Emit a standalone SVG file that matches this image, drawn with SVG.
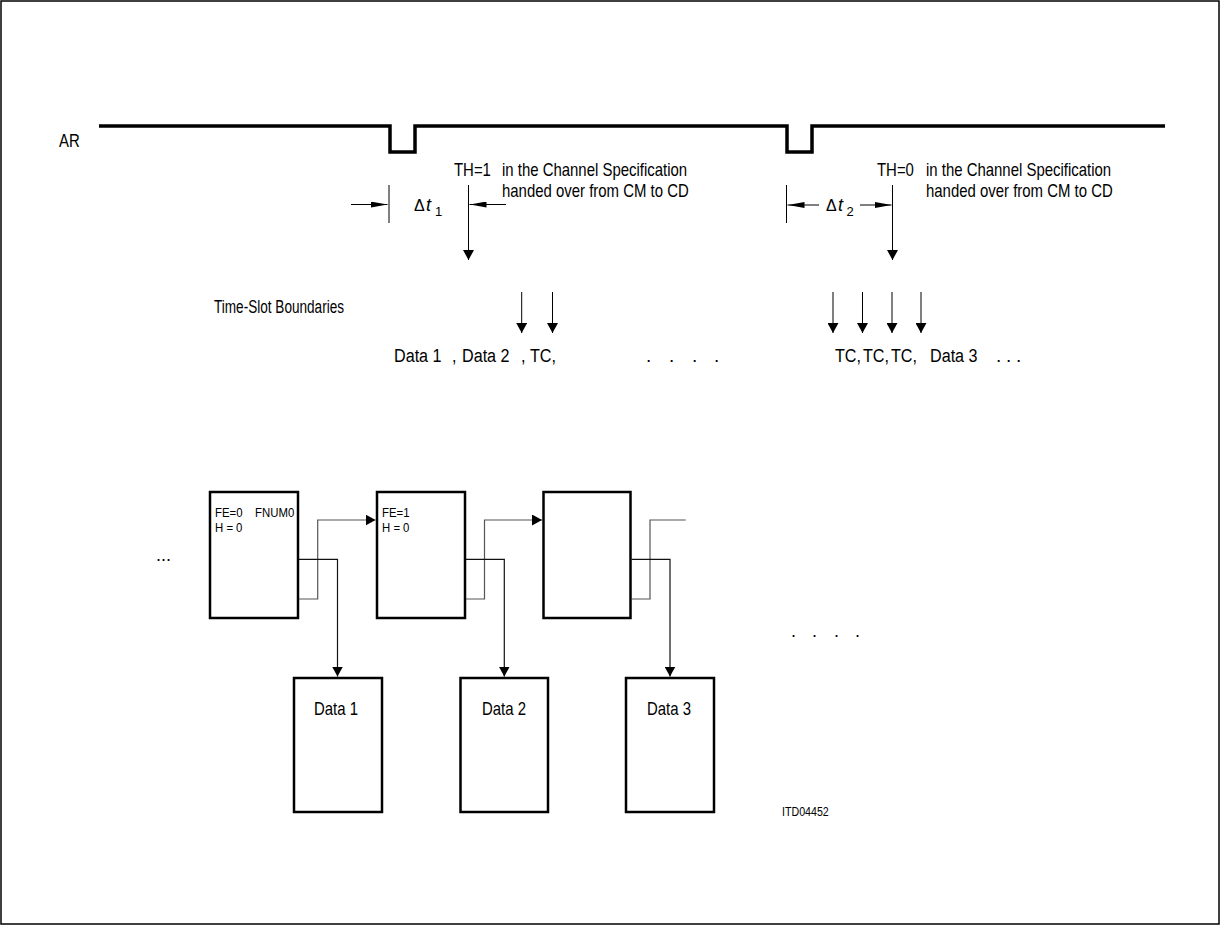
<svg xmlns="http://www.w3.org/2000/svg" width="1223" height="927" viewBox="0 0 1223 927">
<style>
text{font-family:"Liberation Sans",Arial,sans-serif;fill:#000}
.t{font-size:18px}
.r{font-size:19px}
.s{font-size:12px}
.d{font-size:16px}
.i{font-size:18px;font-style:italic}
.sub{font-size:13px}
.id{font-size:13px}
.box{fill:#fff;stroke:#000;stroke-width:2.5}
.ln{fill:none;stroke:#000;stroke-width:1}
.cn{fill:none;stroke:#555;stroke-width:1.2}
.cd{fill:none;stroke:#111;stroke-width:1.2}
</style>
<defs>
<marker id="ad" viewBox="0 0 10 10" refX="10" refY="5" markerWidth="10" markerHeight="11" markerUnits="userSpaceOnUse" orient="auto" preserveAspectRatio="none"><path d="M0,0 L10,5 L0,10 z" fill="#000"/></marker>
<marker id="al" viewBox="0 0 17 6" refX="17" refY="3" markerWidth="17" markerHeight="6" markerUnits="userSpaceOnUse" orient="auto"><path d="M0,0 L17,3 L0,6 z" fill="#000"/></marker>
</defs>
<rect x="1" y="1" width="1218" height="923" fill="#fff" stroke="#000" stroke-width="1.5"/>

<g id="ar-signal">
<polyline points="99,126 390,126 390,152 415,152 415,126 787,126 787,152 812,152 812,126 1165,126" fill="none" stroke="#000" stroke-width="3.5"/>
<text class="t" transform="translate(59,147) scale(0.83,1)">AR</text>
</g>

<g id="th1-label">
<text class="t" transform="translate(454,176) scale(0.83,1)">TH=1</text>
<text class="t" transform="translate(502,176) scale(0.83,1)">in the Channel Specification</text>
<text class="t" transform="translate(502,197) scale(0.83,1)">handed over from CM to CD</text>
</g>
<g id="th0-label">
<text class="t" transform="translate(877,176) scale(0.83,1)">TH=0</text>
<text class="t" transform="translate(926,176) scale(0.83,1)">in the Channel Specification</text>
<text class="t" transform="translate(926,197) scale(0.83,1)">handed over from CM to CD</text>
</g>

<g id="dt1">
<line class="ln" x1="389" y1="185" x2="389" y2="223"/>
<text class="d" x="414" y="211">Δ</text><text class="i" x="426" y="211">t</text><text class="sub" x="435" y="216">1</text>
</g>
<g id="dt2">
<line class="ln" x1="786.5" y1="185" x2="786.5" y2="223"/>
<text class="d" x="826" y="211">Δ</text><text class="i" x="838" y="211">t</text><text class="sub" x="846.5" y="216">2</text>
</g>

<g id="time-slot-label">
<text class="t" x="214" y="313" textLength="130" lengthAdjust="spacingAndGlyphs">Time-Slot Boundaries</text>
</g>

<g id="sequence">
<text class="r" transform="translate(394,362) scale(0.85,1)">Data 1</text>
<text class="r" transform="translate(452,362) scale(0.85,1)">,</text>
<text class="r" transform="translate(462,362) scale(0.85,1)">Data 2</text>
<text class="r" transform="translate(521,362) scale(0.85,1)">,</text>
<text class="r" transform="translate(530,362) scale(0.85,1)">TC,</text>
<text class="r" x="646 669 692 714" y="362">....</text>
<text class="r" transform="translate(835,362) scale(0.85,1)">TC,</text>
<text class="r" transform="translate(863,362) scale(0.85,1)">TC,</text>
<text class="r" transform="translate(891,362) scale(0.85,1)">TC,</text>
<text class="r" transform="translate(930,362) scale(0.85,1)">Data 3</text>
<text class="r" x="996 1006 1016" y="362">...</text>
</g>

<g id="frame1">
<rect class="box" x="210" y="492" width="88" height="126"/>
<text class="s" transform="translate(215,516.7) scale(0.95,1)">FE=0</text>
<text class="s" transform="translate(255,516.7) scale(0.95,1)">FNUM0</text>
<text class="s" transform="translate(215,531.7) scale(0.95,1)">H =<tspan dx="3">0</tspan></text>
</g>
<g id="frame2">
<rect class="box" x="377" y="492" width="88" height="126"/>
<text class="s" transform="translate(382,516.7) scale(0.95,1)">FE=1</text>
<text class="s" transform="translate(382,531.7) scale(0.95,1)">H =<tspan dx="3">0</tspan></text>
</g>
<g id="frame3">
<rect class="box" x="543.5" y="492" width="87" height="126"/>
</g>
<g id="data1">
<rect class="box" x="294" y="678" width="88" height="134"/>
<text class="t" transform="translate(314,715) scale(0.83,1)">Data 1</text>
</g>
<g id="data2">
<rect class="box" x="460.5" y="678" width="87.5" height="134"/>
<text class="t" transform="translate(482,715) scale(0.83,1)">Data 2</text>
</g>
<g id="data3">
<rect class="box" x="626" y="678" width="88" height="134"/>
<text class="t" transform="translate(647,715) scale(0.83,1)">Data 3</text>
</g>

<g id="misc">
<text class="t" x="156" y="561">...</text>
<text class="t" x="791 812 834 855" y="637">....</text>
<text class="id" transform="translate(782,816) scale(0.82,1)">ITD04452</text>
</g>

<g id="connectors">
<line class="ln" x1="351" y1="204.5" x2="387.5" y2="204.5" marker-end="url(#al)"/>
<line class="ln" x1="506" y1="204.5" x2="469.5" y2="204.5" marker-end="url(#al)"/>
<line class="ln" x1="468.5" y1="185" x2="468.5" y2="260" marker-end="url(#ad)"/>
<line class="ln" x1="819" y1="205" x2="787.5" y2="205" marker-end="url(#al)"/>
<line class="ln" x1="860" y1="205" x2="891.5" y2="205" marker-end="url(#al)"/>
<line class="ln" x1="892.5" y1="185" x2="892.5" y2="260" marker-end="url(#ad)"/>
<line class="ln" x1="521.7" y1="292" x2="521.7" y2="333" marker-end="url(#ad)"/>
<line class="ln" x1="552.5" y1="292" x2="552.5" y2="333" marker-end="url(#ad)"/>
<line class="ln" x1="833" y1="292" x2="833" y2="333" marker-end="url(#ad)"/>
<line class="ln" x1="862.5" y1="292" x2="862.5" y2="333" marker-end="url(#ad)"/>
<line class="ln" x1="892" y1="292" x2="892" y2="333" marker-end="url(#ad)"/>
<line class="ln" x1="921" y1="292" x2="921" y2="333" marker-end="url(#ad)"/>
<path class="cn" d="M299,599 H317.7 V520 H375.5" marker-end="url(#ad)"/>
<path class="cd" d="M299,559.3 H337.5 V676.5" marker-end="url(#ad)"/>
<path class="cn" d="M466,599 H484.5 V520 H542" marker-end="url(#ad)"/>
<path class="cd" d="M466,559.3 H504.3 V676.5" marker-end="url(#ad)"/>
<path class="cn" d="M631.5,599 H650 V520 H685.7"/>
<path class="cd" d="M631.5,559.3 H670 V676.5" marker-end="url(#ad)"/>
</g>
</svg>
